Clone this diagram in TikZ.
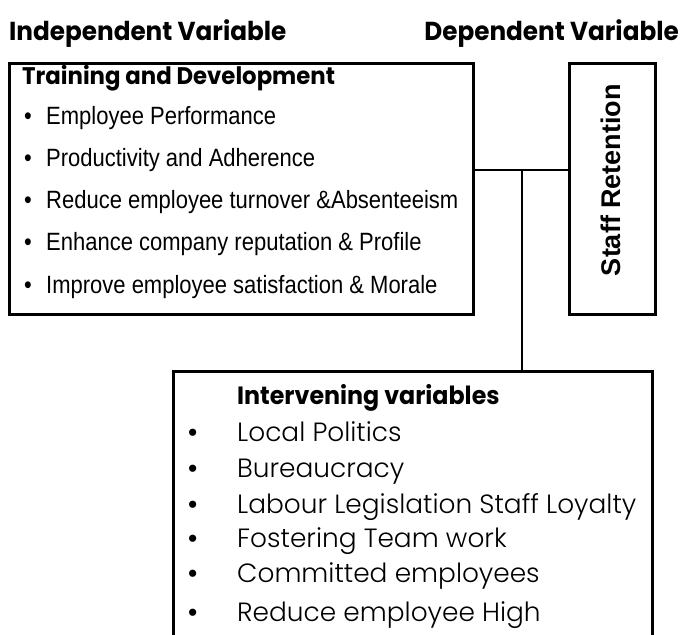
\documentclass[tikz,border=0pt]{standalone}
\usepackage{fontspec}
\setmainfont{Poppins}
\newfontfamily\headfont[FakeStretch=0.95]{Poppins}
\newfontfamily\narrowfont[FakeStretch=0.88]{Liberation Sans}
\newfontfamily\arialfont{Liberation Sans}
\newfontfamily\lightfont{Poppins Light}
\usetikzlibrary{positioning}

\newcommand{\smallitem}[1]{\makebox[22pt][l]{\textbullet}#1}
\newcommand{\bigitem}[1]{\makebox[49pt][l]{\arialfont\textbullet}#1}

\begin{document}
\begin{tikzpicture}[x=1pt,y=-1pt,
	box/.style={draw, line width=2.5pt, anchor=north west, inner sep=0pt},
	head/.style={anchor=base west, inner sep=0pt, font=\headfont\bfseries\fontsize{26}{30}\selectfont},
	title/.style={anchor=base west, inner sep=0pt, font=\headfont\bfseries\fontsize{24}{28}\selectfont},
	item/.style={anchor=base west, inner sep=0pt, font=\narrowfont\fontsize{25}{29}\selectfont},
	vitem/.style={anchor=base west, inner sep=0pt, font=\lightfont\fontsize{26.4}{30}\selectfont}]
	
	\useasboundingbox (0,0) rectangle (681,635);
	
	% headings
	\node[head] (indep) at (9,40) {Independent Variable};
	\node[head, anchor=base east] (dep) at (679,40) {Dependent Variable};
	
	% boxes
	\node[box, minimum width=464, minimum height=251] (td) at (8,62) {};
	\node[box, minimum width=86, minimum height=251] (sr) at (568,62) {};
	\node[box, minimum width=479, minimum height=300] (iv) at (172,370) {};
	
	\node[rotate=90, font=\arialfont\bfseries\fontsize{27}{31}\selectfont] (srtext) at (611,180) {Staff Retention};
	
	% training and development
	\node[title] (tdtitle) at (22,84) {Training and Development};
	\node[item] (t1) at (24,124) {\smallitem{Employee Performance}};
	\node[item] (t2) at (24,166) {\smallitem{Productivity and Adherence}};
	\node[item] (t3) at (24,208) {\smallitem{Reduce employee turnover \&Absenteeism}};
	\node[item] (t4) at (24,250) {\smallitem{Enhance company reputation \& Profile}};
	\node[item] (t5) at (24,293) {\smallitem{Improve employee satisfaction \& Morale}};
	
	% intervening variables
	\node[title, font=\headfont\bfseries\fontsize{25}{29}\selectfont] (ivtitle) at (237,404) {Intervening variables};
	\node[vitem] (v1) at (188,441) {\bigitem{Local Politics}};
	\node[vitem] (v2) at (188,477) {\bigitem{Bureaucracy}};
	\node[vitem] (v3) at (188,513) {\bigitem{Labour Legislation Staff Loyalty}};
	\node[vitem] (v4) at (188,547) {\bigitem{Fostering Team work}};
	\node[vitem] (v5) at (188,582) {\bigitem{Committed employees}};
	\node[vitem] (v6) at (188,621) {\bigitem{Reduce employee High}};
	
	% connectors
	\coordinate (j) at (522,170);
	\draw[line width=2.5pt] (td.east |- j) -- (sr.west |- j);
	\draw[line width=2.5pt] (j) -- (iv.north -| j);
	
\end{tikzpicture}
\end{document}
